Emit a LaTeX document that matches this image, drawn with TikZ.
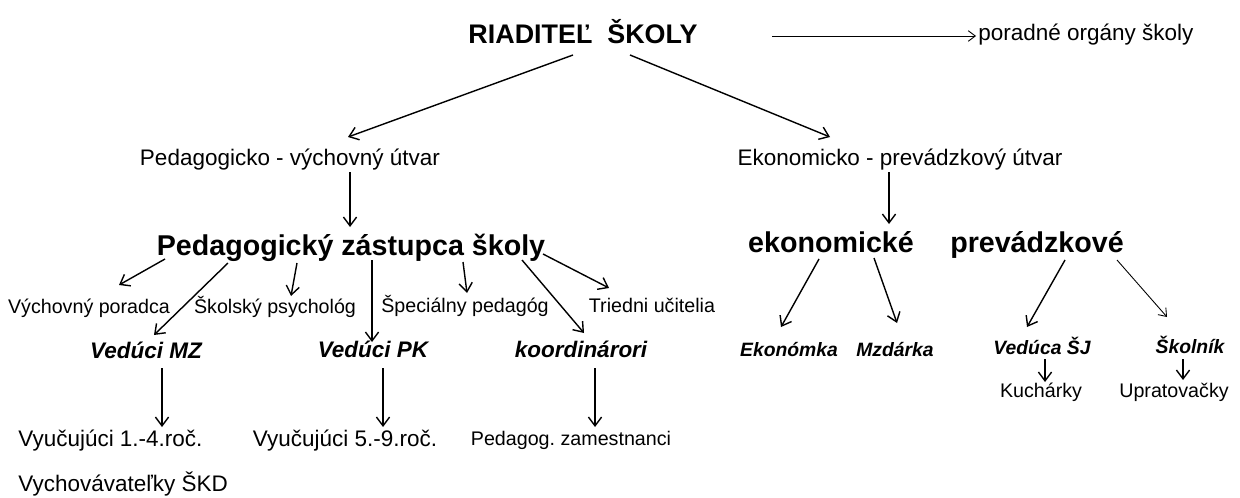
\documentclass[tikz,border=0pt]{standalone}
\usepackage{fontspec}
\setmainfont{Liberation Sans}
\frenchspacing
\usepackage{tikz}
\usetikzlibrary{calc}
\usetikzlibrary{arrows.meta}
\usetikzlibrary{positioning}
\newcommand{\headfont}{\fontsize{15.3}{18}\selectfont\bfseries}
\newcommand{\bigfont}{\fontsize{16.3}{19}\selectfont\bfseries}
\newcommand{\midfont}{\fontsize{12.8}{15}\selectfont}
\newcommand{\smallfont}{\fontsize{11.2}{13}\selectfont}
\newcommand{\leadfont}{\fontsize{12.8}{15}\selectfont\bfseries\itshape}
\newcommand{\staffont}{\fontsize{11}{13}\selectfont\bfseries\itshape}
\tikzset{
    lbl/.style={inner sep=0pt, anchor=base},
    arr/.style={-{Straight Barb[length=5pt, width=7.5pt]}, line width=0.8pt},
    thinarr/.style={-{Straight Barb[length=4pt, width=6pt]}, line width=0.5pt}
}

\begin{document}
\begin{tikzpicture}[x=0.02cm, y=-0.02cm]
            \useasboundingbox (0,0) rectangle (1240,497);
            % vedenie
            \node[lbl, font=\headfont]                   (rs)  at ( 583, 43) {RIADITEĽ\ \ ŠKOLY};
            \node[lbl, font=\midfont, anchor=base west]  (po)  at ( 978, 40) {poradné orgány školy};
            \node[lbl, font=\midfont]                    (pv)  at ( 290,165) {Pedagogicko - výchovný útvar};
            \node[lbl, font=\midfont]                    (ep)  at ( 900,165) {Ekonomicko - prevádzkový útvar};
            \node[lbl, font=\bigfont]                    (pz)  at ( 351,255) {Pedagogický zástupca školy};
            \node[lbl, font=\bigfont]                    (ek)  at ( 831,252) {ekonomické};
            \node[lbl, font=\bigfont]                    (pr)  at (1037,252) {prevádzkové};
            % pedagogicky usek
            \node[lbl, font=\smallfont]                  (vpo) at (  89,313) {Výchovný poradca};
            \node[lbl, font=\smallfont]                  (sps) at ( 275,313) {Školský psychológ};
            \node[lbl, font=\smallfont]                  (spp) at ( 465,312) {Špeciálny pedagóg};
            \node[lbl, font=\smallfont]                  (tu)  at ( 652,312) {Triedni učitelia};
            \node[lbl, font=\leadfont]                   (vmz) at ( 146,358) {Vedúci MZ};
            \node[lbl, font=\leadfont]                   (vpk) at ( 373,357) {Vedúci PK};
            \node[lbl, font=\leadfont]                   (koo) at ( 581,357) {koordinárori};
            \node[lbl, font=\midfont, anchor=base west]  (v14) at (  18,446) {Vyučujúci 1.-4.roč.};
            \node[lbl, font=\midfont]                    (v59) at ( 345,446) {Vyučujúci 5.-9.roč.};
            \node[lbl, font=\smallfont]                  (pzm) at ( 571,445) {Pedagog. zamestnanci};
            \node[lbl, font=\midfont, anchor=base west]  (vsk) at (  18,491) {Vychovávateľky ŠKD};
            % ekonomicky usek
            \node[lbl, font=\staffont]                   (eka) at ( 789,356) {Ekonómka};
            \node[lbl, font=\staffont]                   (mzd) at ( 895,356) {Mzdárka};
            \node[lbl, font=\staffont]                   (vsj) at (1042,354) {Vedúca ŠJ};
            \node[lbl, font=\staffont]                   (skn) at (1190,353) {Školník};
            \node[lbl, font=\smallfont]                  (kuc) at (1041,397) {Kuchárky};
            \node[lbl, font=\smallfont]                  (upr) at (1174,397) {Upratovačky};
            % sipky
            \draw[arr]     ([shift={( -10, 12)}]rs.base) -- ([shift={(  58,-28)}]pv.base);
            \draw[arr]     ([shift={(  47, 12)}]rs.base) -- ([shift={( -70,-28)}]ep.base);
            \draw[thinarr] ([shift={( 189, -7)}]rs.base) -- ([shift={(  -2, -4)}]po.base west);
            \draw[arr]     ([shift={(  60,  7)}]pv.base) -- ([shift={(  -1,-28)}]pz.base);
            \draw[arr]     ([shift={( -11,  7)}]ep.base) -- ([shift={(  58,-28)}]ek.base);
            \draw[arr]     ([shift={(-186,  4)}]pz.base) -- ([shift={(  30,-28)}]vpo.base);
            \draw[arr]     ([shift={(-123,  8)}]pz.base) -- ([shift={(   8,-23)}]vmz.base);
            \draw[arr]     ([shift={( -54,  8)}]pz.base) -- ([shift={(  16,-17)}]sps.base);
            \draw[arr]     ([shift={(  21,  5)}]pz.base) -- ([shift={(  -1,-15)}]vpk.base);
            \draw[arr]     ([shift={( 112,  7)}]pz.base) -- ([shift={(   2,-19)}]spp.base);
            \draw[arr]     ([shift={( 171,  5)}]pz.base) -- ([shift={(   3,-24)}]koo.base);
            \draw[arr]     ([shift={( 192, -1)}]pz.base) -- ([shift={( -43,-24)}]tu.base);
            \draw[arr]     ([shift={(  16, 10)}]vmz.base) -- ([shift={( 144,-19)}]v14.base west);
            \draw[arr]     ([shift={(  10, 11)}]vpk.base) -- ([shift={(  38,-19)}]v59.base);
            \draw[arr]     ([shift={(  14, 11)}]koo.base) -- ([shift={(  24,-18)}]pzm.base);
            \draw[arr]     ([shift={( -12,  7)}]ek.base) -- ([shift={(  -8,-29)}]eka.base);
            \draw[arr]     ([shift={(  43,  6)}]ek.base) -- ([shift={(   2,-33)}]mzd.base);
            \draw[arr]     ([shift={(  28,  8)}]pr.base) -- ([shift={( -15,-27)}]vsj.base);
            \draw[thinarr] ([shift={(  80,  8)}]pr.base) -- ([shift={( -23,-36)}]skn.base);
            \draw[arr]     ([shift={(   3,  5)}]vsj.base) -- ([shift={(   4,-15)}]kuc.base);
            \draw[arr]     ([shift={(  -7,  6)}]skn.base) -- ([shift={(   9,-17)}]upr.base);
        \end{tikzpicture}
\end{document}
